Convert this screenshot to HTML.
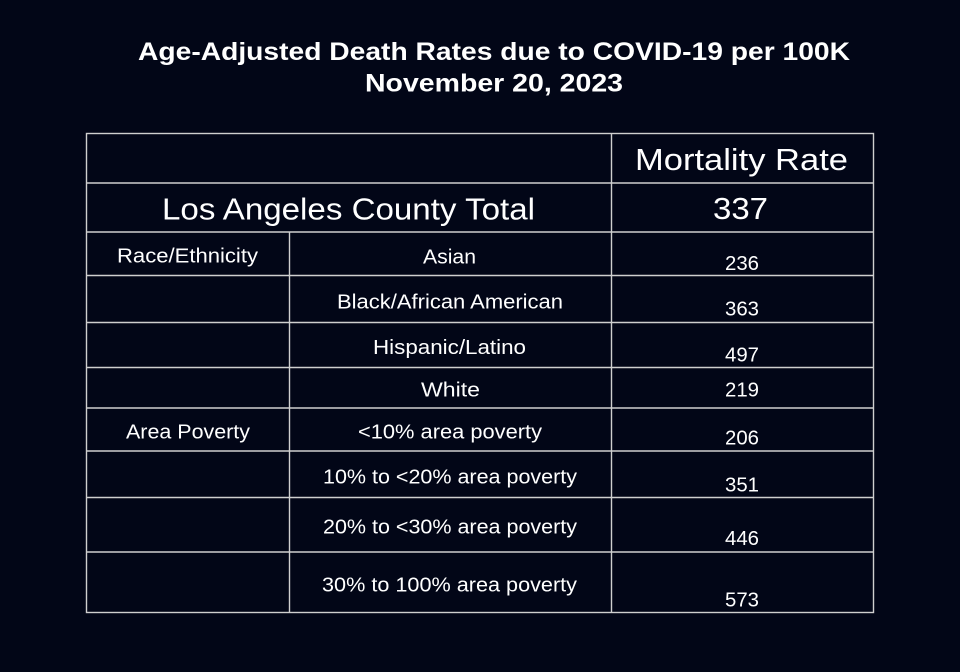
<!DOCTYPE html>
<html>
<head>
<meta charset="utf-8">
<style>
  html, body { margin: 0; padding: 0; background: #020617; }
  svg { display: block; }
  text { font-family: "Liberation Sans", "DejaVu Sans", sans-serif; fill: #ffffff; }
  .t { font-weight: bold; font-size: 25px; }
  .big { font-size: 31px; }
  .sm { font-size: 20px; }
</style>
</head>
<body>
<svg width="960" height="672" viewBox="0 0 960 672" xmlns="http://www.w3.org/2000/svg">
  <rect x="0" y="0" width="960" height="672" fill="#020617"/>

  <!-- Title -->
  <text class="t" x="138" y="60" textLength="712" lengthAdjust="spacingAndGlyphs">Age-Adjusted Death Rates due to COVID-19 per 100K</text>
  <text class="t" x="365" y="91.5" textLength="258" lengthAdjust="spacingAndGlyphs">November 20, 2023</text>

  <!-- Table grid -->
  <g stroke="#cfcfcf" stroke-width="1.4" fill="none">
    <rect x="86.5" y="133.5" width="787" height="479"/>
    <line x1="86" y1="183" x2="874" y2="183"/>
    <line x1="86" y1="232" x2="874" y2="232"/>
    <line x1="86" y1="275.5" x2="874" y2="275.5"/>
    <line x1="86" y1="322.5" x2="874" y2="322.5"/>
    <line x1="86" y1="367.5" x2="874" y2="367.5"/>
    <line x1="86" y1="408" x2="874" y2="408"/>
    <line x1="86" y1="451" x2="874" y2="451"/>
    <line x1="86" y1="497.5" x2="874" y2="497.5"/>
    <line x1="86" y1="552" x2="874" y2="552"/>
    <line x1="611.5" y1="133" x2="611.5" y2="613"/>
    <line x1="289.5" y1="232" x2="289.5" y2="613"/>
  </g>

  <!-- Header rows -->
  <text class="big" x="635" y="170" textLength="213" lengthAdjust="spacingAndGlyphs">Mortality Rate</text>
  <text class="big" x="162" y="219.5" textLength="373" lengthAdjust="spacingAndGlyphs">Los Angeles County Total</text>
  <text class="big" x="713" y="219" textLength="55" lengthAdjust="spacingAndGlyphs">337</text>

  <!-- Left column -->
  <text class="sm" x="117" y="262.7" textLength="141" lengthAdjust="spacingAndGlyphs">Race/Ethnicity</text>
  <text class="sm" x="126" y="438.3" textLength="124" lengthAdjust="spacingAndGlyphs">Area Poverty</text>

  <!-- Middle column -->
  <text class="sm" x="423" y="263.3" textLength="53" lengthAdjust="spacingAndGlyphs">Asian</text>
  <text class="sm" x="337" y="308.3" textLength="226" lengthAdjust="spacingAndGlyphs">Black/African American</text>
  <text class="sm" x="373" y="354" textLength="153" lengthAdjust="spacingAndGlyphs">Hispanic/Latino</text>
  <text class="sm" x="421" y="396.7" textLength="59" lengthAdjust="spacingAndGlyphs">White</text>
  <text class="sm" x="358" y="438.3" textLength="184" lengthAdjust="spacingAndGlyphs">&lt;10% area poverty</text>
  <text class="sm" x="323" y="483.3" textLength="254" lengthAdjust="spacingAndGlyphs">10% to &lt;20% area poverty</text>
  <text class="sm" x="323" y="533.3" textLength="254" lengthAdjust="spacingAndGlyphs">20% to &lt;30% area poverty</text>
  <text class="sm" x="322" y="591.7" textLength="255" lengthAdjust="spacingAndGlyphs">30% to 100% area poverty</text>

  <!-- Values -->
  <text class="sm" x="725" y="270" textLength="34" lengthAdjust="spacingAndGlyphs">236</text>
  <text class="sm" x="725" y="315.7" textLength="34" lengthAdjust="spacingAndGlyphs">363</text>
  <text class="sm" x="725" y="361.7" textLength="34" lengthAdjust="spacingAndGlyphs">497</text>
  <text class="sm" x="725" y="396.7" textLength="34" lengthAdjust="spacingAndGlyphs">219</text>
  <text class="sm" x="725" y="444.3" textLength="34" lengthAdjust="spacingAndGlyphs">206</text>
  <text class="sm" x="725" y="491.7" textLength="34" lengthAdjust="spacingAndGlyphs">351</text>
  <text class="sm" x="725" y="545" textLength="34" lengthAdjust="spacingAndGlyphs">446</text>
  <text class="sm" x="725" y="606.7" textLength="34" lengthAdjust="spacingAndGlyphs">573</text>
</svg>
</body>
</html>
